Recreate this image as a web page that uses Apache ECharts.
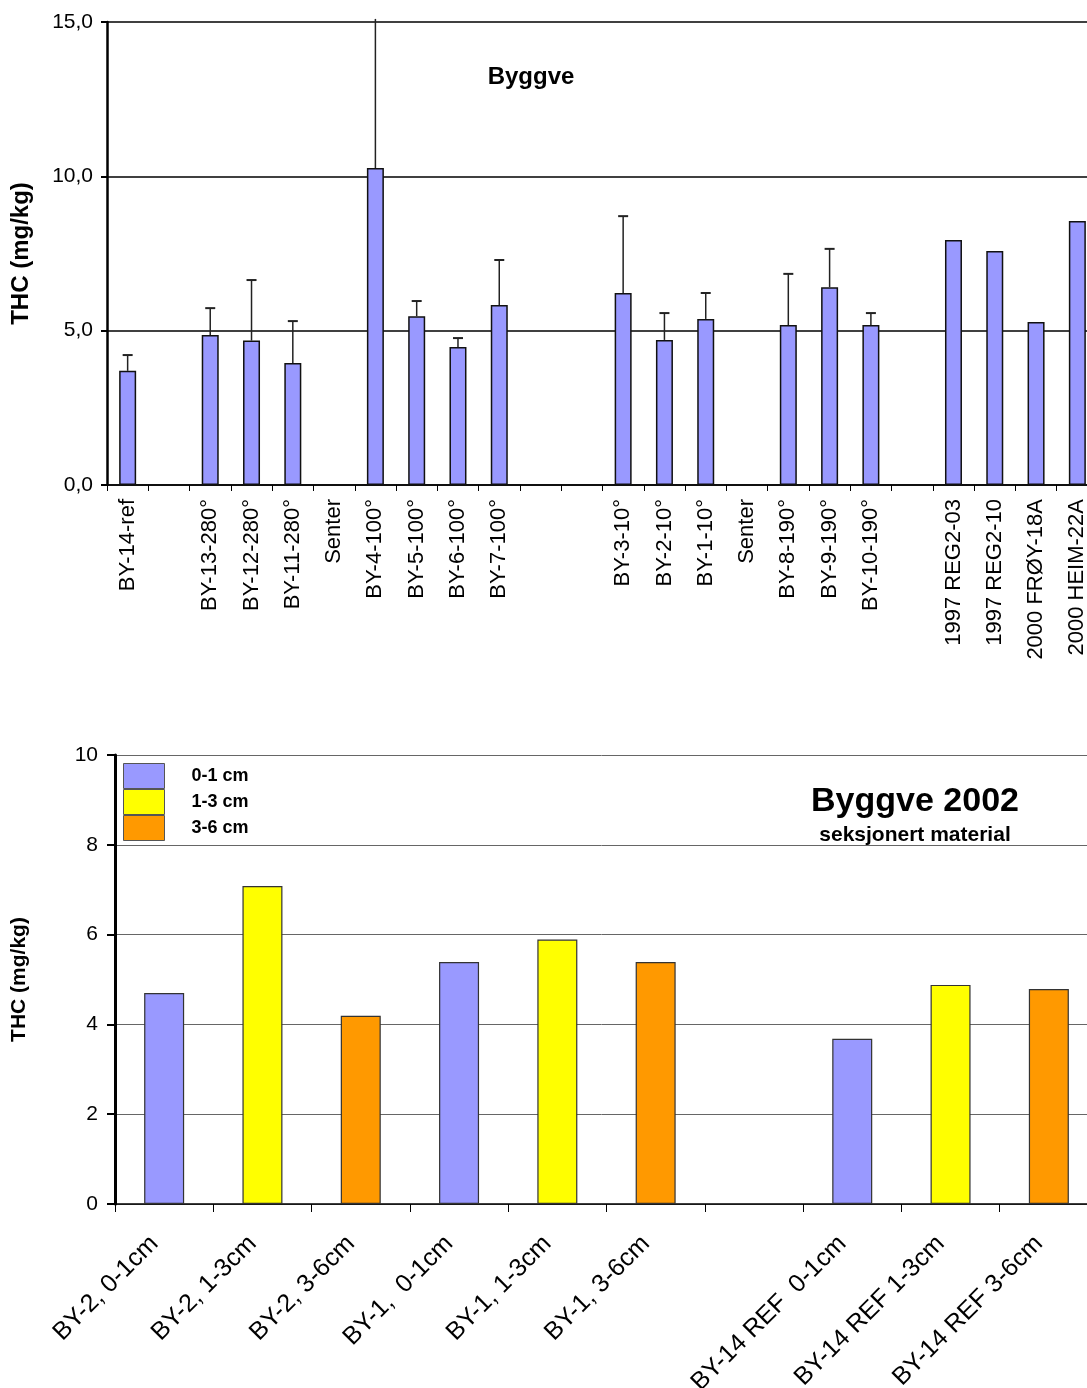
<!DOCTYPE html>
<html><head><meta charset="utf-8">
<script src="https://cdn.jsdelivr.net/npm/echarts@6/dist/echarts.min.js"></script>
<style>html,body{margin:0;padding:0;background:#fff;overflow:hidden}#c{width:1087px;height:1388px}</style>
</head><body><div id="c"></div>
<script>
// ---- Top chart data ----
var topCategories = ['BY-14-ref','','BY-13-280°','BY-12-280°','BY-11-280°','Senter','BY-4-100°','BY-5-100°','BY-6-100°','BY-7-100°','','','BY-3-10°','BY-2-10°','BY-1-10°','Senter','BY-8-190°','BY-9-190°','BY-10-190°','','1997 REG2-03','1997 REG2-10','2000 FRØY-18A','2000 HEIM-22A'];
var topValues = [3.7,'-',4.86,4.68,3.95,'-',10.27,5.47,4.47,5.83,'-','-',6.22,4.70,5.38,'-',5.18,6.41,5.18,'-',7.94,7.58,5.28,8.55];
var topErrUpper = [4.21,null,5.73,6.64,5.31,null,15.1,5.96,4.76,7.29,null,null,8.71,5.57,6.22,null,6.84,7.65,5.57,null,null,null,null,null];
var topTicks = [0,5,10,15];

// ---- Bottom chart data ----
var botCategories = ['BY-2, 0-1cm','BY-2, 1-3cm','BY-2, 3-6cm','BY-1,  0-1cm','BY-1, 1-3cm','BY-1, 3-6cm','','BY-14 REF  0-1cm','BY-14 REF 1-3cm','BY-14 REF 3-6cm'];
var bot0_1 = [4.70,'-','-',5.39,'-','-','-',3.68,'-','-'];
var bot1_3 = ['-',7.08,'-','-',5.89,'-','-','-',4.88,'-'];
var bot3_6 = ['-','-',4.19,'-','-',5.39,'-','-','-',4.79];
var botSeriesNames = ['0-1 cm','1-3 cm','3-6 cm'];

var errData = [];
topErrUpper.forEach(function(u,i){ if(u!=null) errData.push([i, topValues[i], u]); });

var FONT = '"Liberation Sans", Arial, sans-serif';
var chart = echarts.init(document.getElementById('c'), null, {renderer:'canvas'});

var option = {
  animation:false,
  textStyle:{fontFamily:FONT},
  title:[
    {text:'Byggve', left:531, top:65, padding:0, textAlign:'center', textStyle:{fontFamily:FONT,fontSize:24,fontWeight:'bold',color:'#000'}},
    {text:'Byggve 2002', left:915, top:785, padding:0, textAlign:'center', textStyle:{fontFamily:FONT,fontSize:34,fontWeight:'bold',color:'#000'}},
    {text:'seksjonert material', left:915, top:825, padding:0, textAlign:'center', textStyle:{fontFamily:FONT,fontSize:21,fontWeight:'bold',color:'#000'}}
  ],
  legend:{
    data:botSeriesNames, orient:'vertical', left:123, top:763, padding:0, itemWidth:41, itemHeight:25, itemGap:0,
    itemStyle:{borderWidth:1,borderColor:'#555'},
    textStyle:{fontFamily:FONT,fontSize:18,fontWeight:'bold',color:'#000',padding:[0,0,0,22]},
    icon:'rect'
  },
  grid:[
    {left:107, width:991, top:22, height:463, containLabel:false, outerBoundsMode:'none'},
    {left:115, width:983, top:755, height:449, containLabel:false, outerBoundsMode:'none'}
  ],
  xAxis:[
    {type:'category', gridIndex:0, data:topCategories, boundaryGap:true,
     axisLine:{show:true,lineStyle:{color:'#000',width:1.5}},
     axisTick:{show:true,alignWithLabel:false,interval:0,length:6,lineStyle:{color:'#000',width:1}},
     axisLabel:{interval:0,rotate:90,margin:14,fontSize:22,color:'#000',fontFamily:FONT}},
    {type:'category', gridIndex:1, data:botCategories, boundaryGap:true,
     axisLine:{show:true,lineStyle:{color:'#000',width:1.5}},
     axisTick:{show:true,alignWithLabel:false,interval:0,length:8,lineStyle:{color:'#000',width:1}},
     axisLabel:{interval:0,rotate:45,margin:26,padding:[0,14,0,0],fontSize:25,color:'#000',fontFamily:FONT}}
  ],
  yAxis:[
    {type:'value', gridIndex:0, min:0, max:15, interval:5,
     name:'THC (mg/kg)', nameLocation:'middle', nameGap:74, nameRotate:90,
     nameTextStyle:{fontFamily:FONT,fontSize:24,fontWeight:'bold',color:'#000'},
     axisLine:{show:true,lineStyle:{color:'#000',width:2.5}},
     axisTick:{show:true,length:6,lineStyle:{color:'#000',width:2}},
     splitLine:{show:true,lineStyle:{color:'#000',width:1.5}},
     axisLabel:{fontSize:21,color:'#000',margin:14,fontFamily:FONT,formatter:function(v){return v.toFixed(1).replace('.',',');}}},
    {type:'value', gridIndex:1, min:0, max:10, interval:2,
     name:'THC (mg/kg)', nameLocation:'middle', nameGap:85, nameRotate:90,
     nameTextStyle:{fontFamily:FONT,fontSize:21,fontWeight:'bold',color:'#000'},
     axisLine:{show:true,lineStyle:{color:'#000',width:3}},
     axisTick:{show:true,length:8,lineStyle:{color:'#000',width:2}},
     splitLine:{show:true,lineStyle:{color:'#666',width:1}},
     axisLabel:{fontSize:21,color:'#000',margin:17,fontFamily:FONT}}
  ],
  series:[
    {type:'bar', name:'top', xAxisIndex:0, yAxisIndex:0, data:topValues, barWidth:17,
     itemStyle:{color:'#9999FF',borderColor:'#111',borderWidth:1.5}, z:3},
    {type:'custom', name:'err', xAxisIndex:0, yAxisIndex:0, data:errData, clip:false, z:2,
     renderItem:function(params, api){
       var x = api.value(0), lo = api.value(1), hi = api.value(2);
       var p0 = api.coord([x, lo]);
       var p1 = api.coord([x, hi]);
       var children = [{type:'line', shape:{x1:p0[0],y1:p0[1],x2:p1[0],y2:p1[1]}, style:{stroke:'#222',lineWidth:1.5}}];
       if(hi < 15){
         children.push({type:'line', shape:{x1:p1[0]-5,y1:p1[1],x2:p1[0]+5,y2:p1[1]}, style:{stroke:'#222',lineWidth:2}});
       }
       return {type:'group', children:children};
     }},
    {type:'bar', name:botSeriesNames[0], xAxisIndex:1, yAxisIndex:1, data:bot0_1, stack:'s', barWidth:40,
     itemStyle:{color:'#9999FF',borderColor:'#333',borderWidth:1.2}},
    {type:'bar', name:botSeriesNames[1], xAxisIndex:1, yAxisIndex:1, data:bot1_3, stack:'s', barWidth:40,
     itemStyle:{color:'#FFFF00',borderColor:'#333',borderWidth:1.2}},
    {type:'bar', name:botSeriesNames[2], xAxisIndex:1, yAxisIndex:1, data:bot3_6, stack:'s', barWidth:40,
     itemStyle:{color:'#FF9900',borderColor:'#333',borderWidth:1.2}}
  ]
};
chart.setOption(option);
</script>
</body></html>
